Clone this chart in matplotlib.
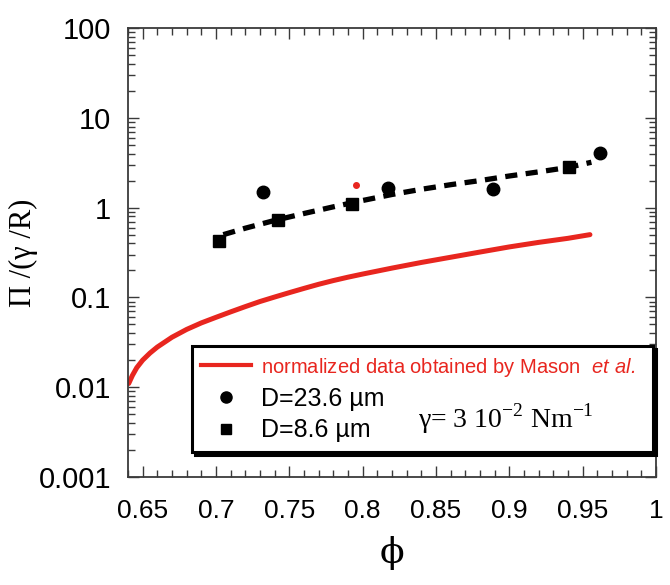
import matplotlib
matplotlib.use("Agg")
import matplotlib.pyplot as plt
from matplotlib.lines import Line2D
from matplotlib.ticker import FixedLocator, MultipleLocator, FixedFormatter

plt.rcParams["mathtext.fontset"] = "custom"
plt.rcParams["mathtext.rm"] = "Liberation Serif"
plt.rcParams["mathtext.sf"] = "Liberation Sans:italic"

# %%
## Data
# Mason et al., normalized
phi_mason = [0.6405, 0.643, 0.646, 0.65, 0.655, 0.66, 0.67, 0.68, 0.69,
             0.70, 0.71, 0.72, 0.73, 0.74, 0.75, 0.76, 0.77, 0.78, 0.79,
             0.80, 0.82, 0.84, 0.86, 0.88, 0.90, 0.92, 0.94, 0.955]
pi_mason = [0.011, 0.0135, 0.0165, 0.02, 0.024, 0.028, 0.036, 0.044, 0.052,
            0.06, 0.069, 0.079, 0.09, 0.101, 0.113, 0.126, 0.14, 0.154, 0.168,
            0.182, 0.212, 0.245, 0.28, 0.32, 0.365, 0.41, 0.455, 0.50]

# D = 23.6 um
phi_big = [0.732, 0.817, 0.889, 0.962]
pi_big = [1.5, 1.67, 1.63, 4.1]

# D = 8.6 um
phi_small = [0.702, 0.742, 0.793, 0.941]
pi_small = [0.42, 0.72, 1.1, 2.8]

# single red point
phi_red = [0.7955]
pi_red = [1.8]

# dashed fit
phi_fit = [0.705, 0.72, 0.74, 0.76, 0.78, 0.80, 0.82, 0.84, 0.86, 0.88,
           0.90, 0.92, 0.94, 0.956]
pi_fit = [0.5, 0.59, 0.72, 0.86, 1.02, 1.2, 1.4, 1.6, 1.8, 2.0, 2.25, 2.5,
          2.8, 3.2]

xticks = [0.65, 0.7, 0.75, 0.8, 0.85, 0.9, 0.95, 1.0]
xticklabels = ["0.65", "0.7", "0.75", "0.8", "0.85", "0.9", "0.95", "1"]
yticks = [0.001, 0.01, 0.1, 1, 10, 100]
yticklabels = ["0.001", "0.01", "0.1", "1", "10", "100"]

RED = "#e8261f"
AXC = "#3a3a3a"

# %%
fig = plt.figure(figsize=(6.7, 5.85), dpi=100)
ax = fig.add_axes([0.191, 0.1846, 0.788, 0.7675])

ax.plot(phi_mason, pi_mason, color=RED, lw=3.6, solid_capstyle="round")
ax.plot(phi_fit, pi_fit, color="k", lw=3.8, dashes=(2.3, 1.6))
ax.plot(phi_big, pi_big, "o", color="k", ms=9)
ax.plot(phi_small, pi_small, "s", color="k", ms=8.5)
ax.plot(phi_red, pi_red, "o", color=RED, ms=4)

ax.set_yscale("log")
ax.set_xlim(0.64, 1.0)
ax.set_ylim(0.001, 100)

ax.xaxis.set_major_locator(FixedLocator(xticks))
ax.xaxis.set_major_formatter(FixedFormatter(xticklabels))
ax.xaxis.set_minor_locator(MultipleLocator(0.01))
ax.yaxis.set_major_locator(FixedLocator(yticks))
ax.yaxis.set_major_formatter(FixedFormatter(yticklabels))

ax.tick_params(which="both", direction="in", top=True, right=True,
               color=AXC, width=1)
ax.tick_params(which="major", length=8)
ax.tick_params(which="minor", length=5)
ax.tick_params(axis="x", which="major", labelsize=19, pad=16)
ax.tick_params(axis="y", which="major", labelsize=21, pad=12)
for lab in ax.get_xticklabels() + ax.get_yticklabels():
    lab.set_fontfamily("Liberation Sans")
for s in ax.spines.values():
    s.set_color(AXC)
    s.set_linewidth(1.3)

ax.set_ylabel("Π /(γ /R)", family=["Liberation Serif", "DejaVu Serif"],
              fontsize=22)
ax.yaxis.set_label_coords(-0.17, 0.5)
ax.set_xlabel("ϕ", family=["DejaVu Serif"], fontsize=26, labelpad=9)

# %%
## Legend
handles = [
    Line2D([], [], color=RED, lw=3),
    Line2D([], [], marker="o", ls="none", color="k", ms=8),
    Line2D([], [], marker="s", ls="none", color="k", ms=7),
]
labels = ["normalized data obtained by Mason  $\\mathsf{et\\ al.}$",
          "D=23.6 µm", "D=8.6 µm"]
leg = ax.legend(handles, labels, loc="lower left",
                bbox_to_anchor=(0.121, 0.056, 0.873, 0.238), mode="expand",
                borderaxespad=0,
                prop={"family": "Liberation Sans", "size": 18},
                handlelength=2.0, handletextpad=0.4, labelspacing=0.3,
                borderpad=0.38, fancybox=False, framealpha=1,
                edgecolor="k", shadow={"color": "k", "alpha": 1})
leg.get_frame().set_linewidth(2.2)
texts = leg.get_texts()
texts[0].set_color(RED)
texts[0].set_fontsize(14.5)

ax.text(0.549, 0.13, "γ= 3 10$^{-2}$ Nm$^{-1}$", transform=ax.transAxes,
        family=["Liberation Serif", "DejaVu Serif"], fontsize=20,
        va="center", ha="left", zorder=10)

fig.savefig("out.png", dpi=100)
